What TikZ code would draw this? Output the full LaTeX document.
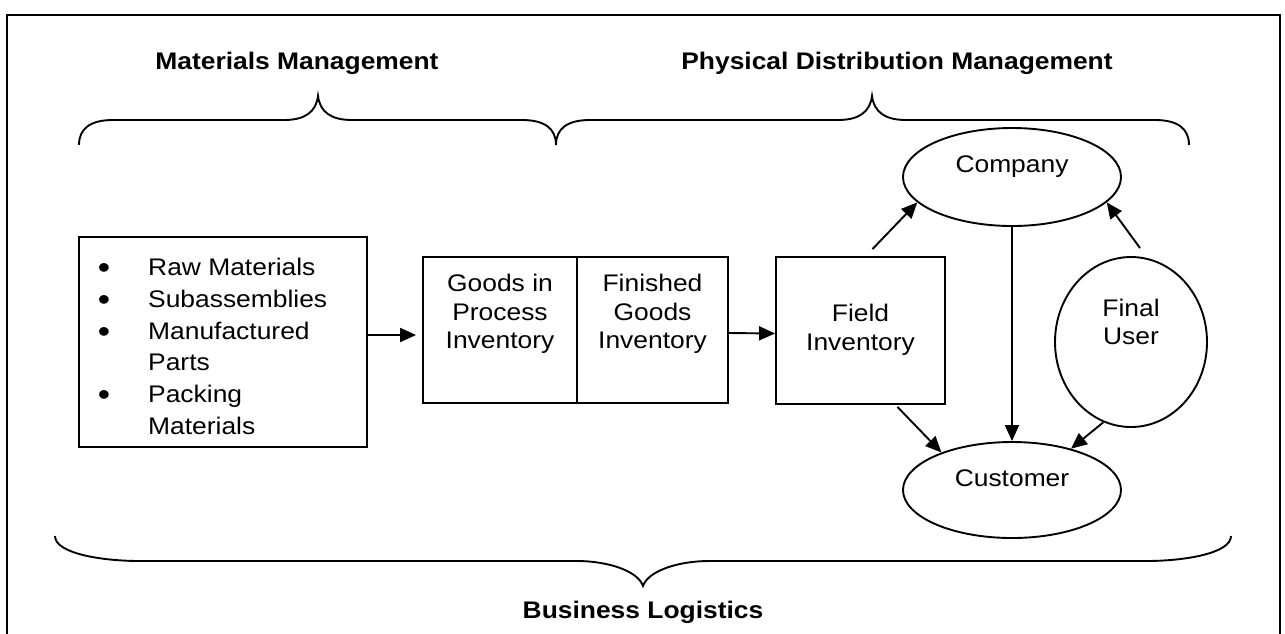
\documentclass[tikz,border=0pt]{standalone}
\usepackage{fontspec}
\setmainfont{Liberation Sans}[FakeStretch=1.1]
\usetikzlibrary{arrows.meta,shapes.geometric,calc}
\begin{document}
\begin{tikzpicture}[x=1pt,y=-1pt,
  every node/.style={font=\fontsize{24}{28.5}\selectfont, inner sep=0pt},
  box/.style={draw, line width=1.9pt, rectangle},
  oval/.style={draw, line width=1.9pt, ellipse},
  arr/.style={line width=1.9pt, -{Triangle[length=16pt,width=14pt]}},
  brace/.style={line width=1.9pt},
  title/.style={font=\fontsize{24}{28}\selectfont\bfseries},
  bullet/.style={font=\fontsize{32}{32}\selectfont},
  txt/.style={align=center}]
\useasboundingbox (0,0) rectangle (1285,633);
\begin{scope}
  \clip (0,0) rectangle (1285,633);
  \draw[line width=1.8pt] (7,15) rectangle (1280,660);
\end{scope}

% titles
\node[title] (mm) at (297,63) {Materials Management};
\node[title] (pdm) at (897,63) {Physical Distribution Management};
\node[title] (bl) at (643,612) {Business Logistics};

% braces
\draw[brace] (79,145) .. controls (79,128) and (91,120) .. (113,120) -- (284,120)
  .. controls (305,120) and (316,112) .. (318,96)
  .. controls (320,112) and (331,120) .. (352,120) -- (522,120)
  .. controls (544,120) and (556,128) .. (556,145);
\draw[brace] (556,145) .. controls (556,128) and (568,120) .. (590,120) -- (838,120)
  .. controls (859,120) and (870,112) .. (872,96)
  .. controls (874,112) and (885,120) .. (906,120) -- (1155,120)
  .. controls (1177,120) and (1189,128) .. (1189,145);
\draw[brace] (55,536) .. controls (55,553) and (100,561) .. (140,561) -- (577,561)
  .. controls (608,561) and (638,571) .. (643,586)
  .. controls (648,571) and (678,561) .. (709,561) -- (1146,561)
  .. controls (1186,561) and (1231,553) .. (1231,536);

% boxes
\node[box, minimum width=288pt, minimum height=210pt] (raw) at (223,342) {};
\foreach \y/\b/\t [count=\i] in {275.5/1/Raw Materials, 307.5/1/Subassemblies,
    339.5/1/Manufactured, 370.5/0/Parts, 402.5/1/Packing, 434.5/0/Materials}{
  \node[anchor=base west] (l\i) at (148,\y) {\t};
  \ifnum\b=1 \node[bullet, anchor=base] (b\i) at (104,\y+3) {\textbullet};\fi
}
\node[box, minimum width=154pt, minimum height=146pt] (gip) at (500,330) {};
\node[txt] (giptext) at (500,314) {Goods in\\Process\\Inventory};
\node[box, minimum width=151pt, minimum height=146pt] (fg) at (652.5,330) {};
\node[txt] (fgtext) at (652.5,314) {Finished\\Goods\\Inventory};
\node[box, minimum width=169pt, minimum height=147pt] (field) at (860.5,330.5) {};
\node[txt] (fieldtext) at (860.5,330) {Field\\Inventory};

% ellipses
\node[oval, minimum width=218pt, minimum height=98pt,
  label={[name=companytext,yshift=10pt]center:Company}] (company) at (1012,177) {};
\node[oval, minimum width=218pt, minimum height=96pt,
  label={[name=customertext,yshift=12pt]center:Customer}] (customer) at (1012,490) {};
\node[oval, minimum width=152pt, minimum height=170pt,
  label={[name=finaltext,yshift=20pt,align=center]center:Final\\User}] (final) at (1131,342) {};

% connectors
\draw[arr] ($(raw.east)+(0,-7)$) -- ($(gip.west)+(-6,5)$);
\draw[arr] ($(fg.east)+(0,3)$) -- ($(field.west)+(0,3)$);
\draw[arr] ($(field.north)+(12,-7)$) -- (company.195);
\draw[arr] ($(field.south)+(37,2)$) -- (customer.152);
\draw[arr] (company.south) -- (customer.north);
\draw[arr] ($(final.north)+(9,-8)$) -- (company.345);
\draw[arr] (final.251) -- (customer.35);
\end{tikzpicture}
\end{document}
